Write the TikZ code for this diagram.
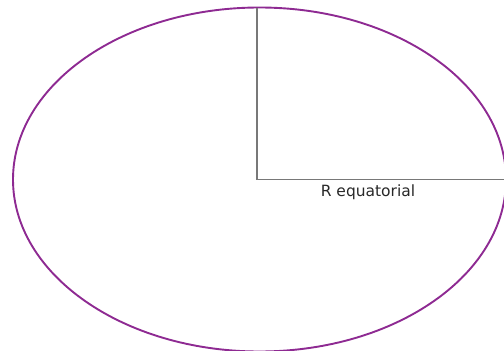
\documentclass[tikz,border=0pt]{standalone}
\usepackage{fontspec}
\setmainfont{DejaVu Sans}
\definecolor{orbit}{RGB}{142,42,146}
\definecolor{axis}{RGB}{120,120,120}
\definecolor{txt}{RGB}{40,40,40}
\tikzset{
  shell/.style = {draw=orbit, line width=1.9pt},
  radius/.style = {draw=axis, line width=1.4pt},
  lbl/.style = {font=\fontsize{15.5}{18}\selectfont, text=txt, inner sep=0pt},
}
\begin{document}
\begin{tikzpicture}[x=1pt,y=-1pt]
  \useasboundingbox (0,0) rectangle (504,351);
  % body outline
  \coordinate (c) at (257,179.5);
  \begin{scope}
    \clip (0,0) rectangle (504,351);
    \draw[shell] (259.5,179.5) ellipse [x radius=246.5, y radius=172];
  \end{scope}
  % radii
  \coordinate (top) at (257,7.5);
  \coordinate (rim) at (504,179.5);
  \draw[radius] (top) -- (c) -- (rim);
  \node[lbl] (req) at (368,192.5) {R equatorial};
\end{tikzpicture}
\end{document}
